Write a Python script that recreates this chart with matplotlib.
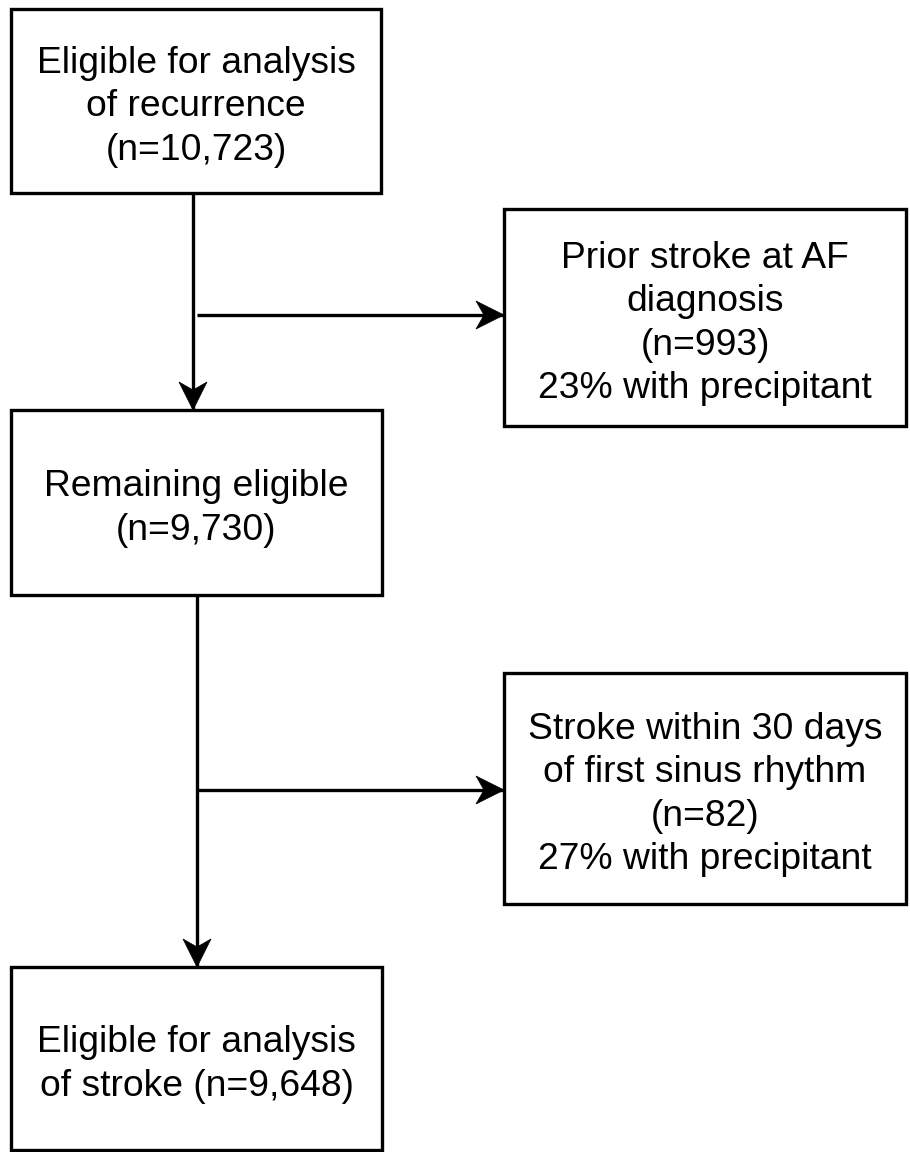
import matplotlib.pyplot as plt
from matplotlib.patches import Rectangle, Polygon

plt.rcParams['font.family'] = ['Liberation Sans', 'DejaVu Sans']

# box texts (main column, then exclusion boxes)
main_labels = [
    ['Eligible for analysis', 'of recurrence', '(n=10,723)'],
    ['Remaining eligible', '(n=9,730)'],
    ['Eligible for analysis', 'of stroke (n=9,648)'],
]
excl_labels = [
    ['Prior stroke at AF', 'diagnosis', '(n=993)', '23% with precipitant'],
    ['Stroke within 30 days', 'of first sinus rhythm', '(n=82)', '27% with precipitant'],
]

# layout in pixels (x0, y0, x1, y1), y grows downwards
main_boxes = [(11, 9, 381, 193), (11, 410, 382, 595), (11, 967, 382, 1150)]
excl_boxes = [(504, 209, 906, 426), (504, 673, 906, 904)]
spine_x = [193, 197]
branch_y = [315, 790]

W, H = 910, 1152
fig = plt.figure(figsize=(W / 100, H / 100), dpi=100)
ax = fig.add_axes([0, 0, 1, 1])
ax.set_xlim(0, W)
ax.set_ylim(H, 0)
ax.axis('off')

LW = 2.4
FS = 26.8
PITCH = 43.5
CAP = 25


def box(b, lines):
    x0, y0, x1, y1 = b
    ax.add_patch(Rectangle((x0, y0), x1 - x0, y1 - y0, fill=False,
                           edgecolor='black', linewidth=LW))
    cx = (x0 + x1) / 2
    cy = (y0 + y1) / 2 + 3
    n = len(lines)
    for i, t in enumerate(lines):
        yc = cy + (i - (n - 1) / 2) * PITCH
        ax.text(cx, yc + CAP / 2, t, ha='center', va='baseline',
                fontsize=FS, color='black')


def arrow(x0, y0, x1, y1):
    ax.plot([x0, x1], [y0, y1], color='black', lw=LW, solid_capstyle='butt')
    L, Wd, notch = 28, 14, 8
    if x0 == x1:
        d = 1 if y1 > y0 else -1
        pts = [(x1, y1), (x1 - Wd, y1 - d * L), (x1, y1 - d * (L - notch)),
               (x1 + Wd, y1 - d * L)]
    else:
        d = 1 if x1 > x0 else -1
        pts = [(x1, y1), (x1 - d * L, y1 - Wd), (x1 - d * (L - notch), y1),
               (x1 - d * L, y1 + Wd)]
    ax.add_patch(Polygon(pts, closed=True, facecolor='black',
                         edgecolor='black', lw=0.5))


for b, lines in zip(main_boxes, main_labels):
    box(b, lines)
for b, lines in zip(excl_boxes, excl_labels):
    box(b, lines)

# vertical flow and side branches
for i in range(2):
    arrow(spine_x[i], main_boxes[i][3], spine_x[i], main_boxes[i + 1][1])
    arrow(197, branch_y[i], excl_boxes[i][0], branch_y[i])

fig.savefig('out.png', dpi=100, facecolor='white')
